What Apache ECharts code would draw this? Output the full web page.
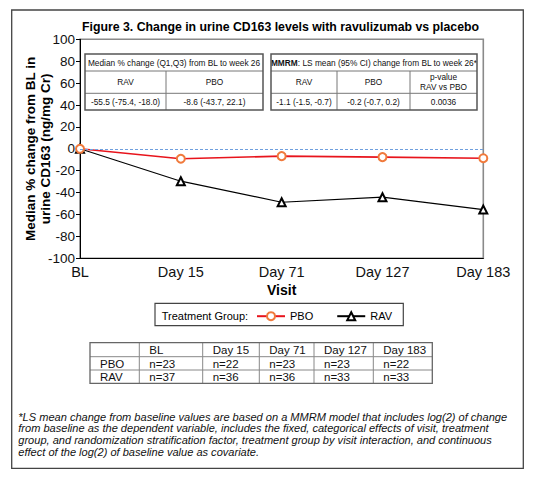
<!DOCTYPE html>
<html>
<head>
<meta charset="utf-8">
<script src="https://cdn.jsdelivr.net/npm/echarts@6/dist/echarts.min.js"></script>
<style>
html,body{margin:0;padding:0;background:#fff;}
#chart{width:536px;height:480px;}
</style>
</head>
<body>
<div id="chart"></div>
<script>
// ---------- data ----------
const categories = ['BL', 'Day 15', 'Day 71', 'Day 127', 'Day 183'];
const pboMedian = [0, -9.1, -6.7, -7.6, -8.6];
const ravMedian = [0, -29.6, -48.8, -44.2, -55.5];
const yMin = -100, yMax = 100, yStep = 20;
const referenceLevel = [0];

const titleText = 'Figure 3. Change in urine CD163 levels with ravulizumab vs placebo';
const yAxisName = 'Median % change from BL in\nurine CD163 (ng/mg Cr)';
const xAxisName = 'Visit';
const legendTitle = 'Treatment Group:';

const medianHeader = 'Median % change (Q1,Q3) from BL to week 26';
const medianGroups = ['RAV', 'PBO'];
const medianWk26 = ['-55.5 (-75.4, -18.0)', '-8.6 (-43.7, 22.1)'];

const mmrmHeader = '{b|MMRM}: LS mean (95% CI) change from BL to week 26*';
const mmrmCols = ['RAV', 'PBO', 'p-value\nRAV vs PBO'];
const mmrmVals = ['-1.1 (-1.5, -0.7)', '-0.2 (-0.7, 0.2)', '0.0036'];

const nHeader = ['', 'BL', 'Day 15', 'Day 71', 'Day 127', 'Day 183'];
const nPBO = ['PBO', 'n=23', 'n=22', 'n=23', 'n=23', 'n=22'];
const nRAV = ['RAV', 'n=37', 'n=36', 'n=36', 'n=33', 'n=33'];

const footnoteLines = [
  '*LS mean change from baseline values are based on a MMRM model that includes log(2) of change',
  'from baseline as the dependent variable, includes the fixed, categorical effects of visit, treatment',
  'group, and randomization stratification factor, treatment group by visit interaction, and continuous',
  'effect of the log(2) of baseline value as covariate.'
];

// ---------- helpers ----------
const FF = '"Liberation Sans", Arial, Helvetica, sans-serif';

function txt(x, y, text, o) {
  o = o || {};
  const style = {
    text: text,
    x: 0, y: 0,
    fill: o.fill || '#000',
    fontSize: o.fontSize || 10,
    fontFamily: FF,
    fontWeight: o.fontWeight || 'normal',
    fontStyle: o.fontStyle || 'normal',
    align: o.align || 'left',
    verticalAlign: o.verticalAlign || 'middle',
    textAlign: o.align || 'left',
    textVerticalAlign: o.verticalAlign || 'middle'
  };
  if (o.lineHeight) style.lineHeight = o.lineHeight;
  if (o.rich) style.rich = o.rich;
  return { type: 'text', x: x, y: y, silent: true, style: style };
}

function buildTable(x0, y0, colW, rowH, rows, o) {
  const els = [];
  const totalW = colW.reduce((a, b) => a + b, 0);
  const totalH = rowH.reduce((a, b) => a + b, 0);
  let y = y0;
  rows.forEach((row, ri) => {
    let x = x0, ci = 0;
    row.forEach((cell) => {
      const c = (typeof cell === 'object') ? cell : { text: cell };
      const span = c.span || 1;
      let w = 0;
      for (let s = 0; s < span; s++) w += colW[ci + s];
      const align = c.align || o.align;
      const tx = align === 'left' ? x + o.pad : x + w / 2;
      els.push(txt(tx, y + rowH[ri] / 2 + (o.dy || 0), c.text, {
        fontSize: o.fontSize, align: align, fill: o.fill,
        lineHeight: o.lineHeight, rich: c.rich
      }));
      if (ci + span < colW.length) {
        els.push({ type: 'line', silent: true,
          shape: { x1: x + w, y1: y, x2: x + w, y2: y + rowH[ri] },
          style: { stroke: o.inner, lineWidth: o.innerW } });
      }
      x += w; ci += span;
    });
    if (ri < rows.length - 1) {
      els.push({ type: 'line', silent: true,
        shape: { x1: x0, y1: y + rowH[ri], x2: x0 + totalW, y2: y + rowH[ri] },
        style: { stroke: o.inner, lineWidth: o.innerW } });
    }
    y += rowH[ri];
  });
  els.push({ type: 'rect', silent: true,
    shape: { x: x0, y: y0, width: totalW, height: totalH },
    style: { fill: 'none', stroke: o.outer, lineWidth: o.outerW } });
  return els;
}

const insetOpt = { fontSize: 8.3, align: 'center', pad: 4, fill: '#111',
  inner: '#777', innerW: 1, outer: '#555', outerW: 1.5, lineHeight: 9.5 };

const table1 = buildTable(85, 54, [81, 97], [17, 22.3, 16.7], [
  [{ text: medianHeader, span: 2 }],
  medianGroups,
  medianWk26
], insetOpt);

const table2 = buildTable(271, 54, [66, 73, 67], [17, 22.3, 16.7], [
  [{ text: mmrmHeader, span: 3,
     rich: { b: { fontWeight: 'bold', fontSize: 8.3, fontFamily: FF, fill: '#111' } } }],
  mmrmCols,
  mmrmVals
], insetOpt);

const nTable = buildTable(90, 342.7, [49.3, 63.4, 56.6, 54.7, 59.3, 59], [14, 13.3, 13.3], [
  nHeader, nPBO, nRAV
], { fontSize: 11.5, align: 'left', pad: 10, fill: '#111',
     inner: '#888', innerW: 1, outer: '#666', outerW: 1.3, dy: 0.5 });

const graphics = [].concat(
  [
    { type: 'rect', silent: true, shape: { x: 11.7, y: 10, width: 511.6, height: 458.3 },
      style: { fill: 'none', stroke: '#444', lineWidth: 1.3 } },
    txt(280.5, 26.5, titleText, { fontSize: 12.3, fontWeight: 'bold', align: 'center' }),
    { type: 'rect', silent: true, shape: { x: 155, y: 303.3, width: 248.3, height: 22.4 },
      style: { fill: 'none', stroke: '#444', lineWidth: 1.2 } },
    txt(161.7, 315.5, legendTitle, { fontSize: 11 }),
    txt(18.3, 411, footnoteLines.join('\n'), { fontSize: 11.05, fontStyle: 'italic',
      verticalAlign: 'top', lineHeight: 11.6, fill: '#111' })
  ],
  table1, table2, nTable
);

// ---------- chart ----------
const chart = echarts.init(document.getElementById('chart'), null, { renderer: 'svg' });
chart.setOption({
  animation: false,
  backgroundColor: '#fff',
  textStyle: { fontFamily: FF, fontWeight: 'normal' },
  grid: {
    left: 80, right: 52.7, top: 39.3, bottom: 221.7,
    show: true, borderColor: '#8a8a8a', borderWidth: 1.6,
    containLabel: false, outerBoundsMode: 'none'
  },
  xAxis: {
    type: 'category',
    data: categories,
    boundaryGap: false,
    name: xAxisName,
    nameLocation: 'middle',
    nameGap: 25,
    nameMoveOverlap: false,
    nameTextStyle: { fontSize: 14, fontWeight: 'bold', color: '#000', fontFamily: FF },
    axisLine: { show: true, onZero: false, lineStyle: { color: '#000', width: 1 } },
    axisTick: { show: false },
    axisLabel: { color: '#111', fontSize: 14.5, fontWeight: 'normal', margin: 6, fontFamily: FF },
    splitLine: { show: false }
  },
  yAxis: {
    type: 'value',
    min: yMin, max: yMax, interval: yStep,
    name: yAxisName,
    nameLocation: 'middle',
    nameRotate: 90,
    nameGap: 27,
    nameMoveOverlap: false,
    nameTextStyle: { fontSize: 13.5, fontWeight: 'bold', color: '#000', lineHeight: 15, fontFamily: FF },
    axisLine: { show: true, lineStyle: { color: '#000', width: 1 } },
    axisTick: { show: true, length: 4, lineStyle: { color: '#000' } },
    axisLabel: { color: '#111', fontSize: 13.5, fontWeight: 'normal', margin: 5, fontFamily: FF },
    splitLine: { show: false }
  },
  legend: {
    left: 256, top: 310.7, padding: 0,
    itemWidth: 28, itemHeight: 10, itemGap: 23,
    data: ['PBO', 'RAV'],
    textStyle: { fontSize: 11, color: '#000', fontFamily: FF, fontWeight: 'normal' },
    selectedMode: false
  },
  series: [
    {
      name: 'RAV', type: 'line', data: ravMedian,
      symbol: 'emptyTriangle', symbolSize: 8,
      lineStyle: { color: '#000', width: 1.2 },
      itemStyle: { color: '#000', borderColor: '#000', borderWidth: 1.2 },
      z: 3
    },
    {
      name: 'PBO', type: 'line', data: pboMedian,
      symbol: 'emptyCircle', symbolSize: 8,
      lineStyle: { color: '#e8141c', width: 1.6 },
      itemStyle: { color: '#f07a3c', borderColor: '#f07a3c', borderWidth: 1.2 },
      z: 4,
      markLine: {
        silent: true, symbol: 'none',
        label: { show: false },
        emphasis: { disabled: true },
        lineStyle: { type: [3, 2], color: '#6f9fde', width: 1, opacity: 1 },
        data: referenceLevel.map(v => ({ yAxis: v }))
      }
    }
  ],
  graphic: graphics
});
</script>
</body>
</html>
